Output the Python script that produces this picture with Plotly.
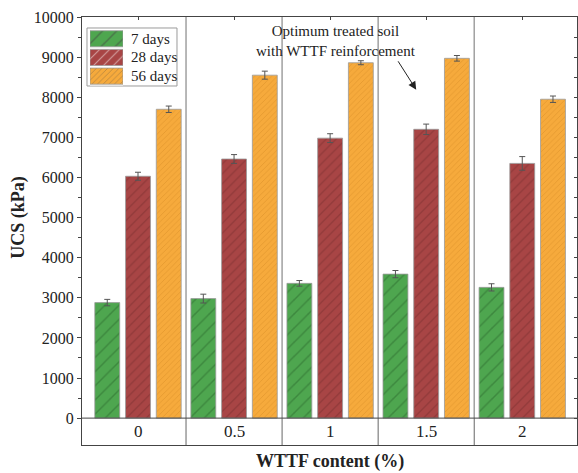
import plotly.graph_objects as go

categories = ["0", "0.5", "1", "1.5", "2"]
series_names = ["7 days", "28 days", "56 days"]
ucs_7 = [2880, 2980, 3360, 3590, 3260]
ucs_28 = [6030, 6460, 6980, 7200, 6350]
ucs_56 = [7700, 8550, 8860, 8970, 7950]
err_7 = [80, 110, 70, 90, 90]
err_28 = [100, 110, 110, 130, 170]
err_56 = [80, 100, 50, 70, 80]
y_ticks = [0, 1000, 2000, 3000, 4000, 5000, 6000, 7000, 8000, 9000, 10000]
note_text = "Optimum treated soil<br>with WTTF reinforcement"

FONT = "Liberation Serif, 'Times New Roman', Times, serif"
xs = list(range(len(categories)))

fills = ["#4ea64f", "#a84545", "#f6aa3c"]
hatch = ["#2c6a2e", "#6e2a2a", "#c47a1a"]
hsize = [10, 7, 4]

fig = go.Figure()
for i, (name, vals, errs) in enumerate(zip(series_names, [ucs_7, ucs_28, ucs_56],
                                         [err_7, err_28, err_56])):
    fig.add_trace(go.Bar(
        x=xs, y=vals, name=name, showlegend=False,
        marker=dict(color=fills[i],
                    line=dict(color="#9a9a9a", width=0.8),
                    pattern=dict(shape="/", fgcolor=hatch[i], size=hsize[i],
                                 solidity=0.15, fillmode="overlay")),
        error_y=dict(type="data", array=errs, color="#555555",
                     thickness=1, width=3),
    ))

# legend drawn as an inset of patterned swatches (one per series)
rows = list(range(len(series_names)))
fig.add_trace(go.Bar(
    y=rows, x=[1] * len(rows), orientation="h", xaxis="x3", yaxis="y3",
    width=0.86, showlegend=False, hoverinfo="skip",
    marker=dict(color=fills, line=dict(color="#9a9a9a", width=0.8),
                pattern=dict(shape="/", fgcolor=hatch, size=hsize,
                             solidity=0.15, fillmode="overlay")),
))

# invisible trace for mirror axes (top / right ticks)
fig.add_trace(go.Scatter(x=[0], y=[0], xaxis="x2", yaxis="y2",
                         mode="markers", marker=dict(opacity=0),
                         showlegend=False, hoverinfo="skip"))

yr = [-670, 10000]
xr = [-0.583, 4.57]
minor_vals = [v + 500 for v in y_ticks[:-1]]

shapes = []
for b in [0.5, 1.5, 2.5, 3.5]:
    shapes.append(dict(type="line", xref="x", yref="y", x0=b, x1=b,
                       y0=0, y1=yr[1], line=dict(color="#a0a0a0", width=1.5),
                       layer="below"))
    shapes.append(dict(type="line", xref="x", yref="y", x0=b, x1=b,
                       y0=yr[0], y1=0, line=dict(color="#666666", width=1),
                       layer="below"))
shapes.append(dict(type="line", xref="paper", yref="y", x0=0, x1=1,
                   y0=0, y1=0, line=dict(color="#444444", width=1)))
# legend frame
shapes.append(dict(type="rect", xref="paper", yref="paper",
                   x0=0.0101, x1=0.1919, y0=0.8388, y1=0.9743,
                   line=dict(color="#9a9a9a", width=1), fillcolor="white",
                   layer="below"))

annotations = []
for x, c in zip(xs, categories):
    annotations.append(dict(x=x, y=-345, xref="x", yref="y", text=c,
                            showarrow=False,
                            font=dict(family=FONT, size=17, color="#222")))
for r, name in zip(rows, series_names):
    annotations.append(dict(x=0.094, y=r, xref="paper", yref="y3", text=name,
                            showarrow=False, xanchor="left",
                            font=dict(family=FONT, size=15, color="#222")))
annotations.append(dict(x=0.5, y=-0.0397, xref="paper", yref="paper",
                        text="<b>WTTF content (%)</b>", showarrow=False,
                        yanchor="middle",
                        font=dict(family=FONT, size=18, color="#222")))
annotations.append(dict(x=-0.129, y=5000, xref="paper", yref="y",
                        text="<b>UCS (kPa)</b>", showarrow=False, textangle=-90,
                        xanchor="center", yanchor="middle",
                        font=dict(family=FONT, size=18, color="#222")))
annotations.append(dict(x=2.06, y=9390, xref="x", yref="y", text=note_text,
                        showarrow=False, align="center",
                        font=dict(family=FONT, size=15, color="#222")))
annotations.append(dict(x=2.896, y=8189, ax=2.698, ay=8933, xref="x", yref="y",
                        axref="x", ayref="y", text="", showarrow=True,
                        arrowhead=2, arrowsize=1.6, arrowwidth=1,
                        arrowcolor="#222"))

fig.update_layout(
    width=578, height=473,
    margin=dict(l=82, r=1, t=17, b=28),
    paper_bgcolor="white", plot_bgcolor="white",
    barmode="group", bargap=0.04, bargroupgap=0.19,
    font=dict(family=FONT, size=16, color="#222"),
    showlegend=False,
    xaxis=dict(range=xr, showticklabels=False, ticks="", showgrid=False,
               zeroline=False, showline=True, linecolor="#444", linewidth=1,
               mirror=True, automargin=False),
    yaxis=dict(range=yr, tickvals=y_ticks, tickformat="d", ticks="outside",
               ticklen=4, tickcolor="#444", showgrid=False, zeroline=False,
               showline=True, linecolor="#444", linewidth=1, mirror=True,
               automargin=False,
               tickfont=dict(family=FONT, size=16, color="#222"),
               minor=dict(tickvals=minor_vals, ticks="outside", ticklen=3,
                          tickcolor="#444")),
    xaxis2=dict(range=xr, overlaying="x", side="top", tickvals=xs,
                ticks="inside", ticklen=3, tickcolor="#444",
                showticklabels=False, showgrid=False, zeroline=False,
                automargin=False),
    yaxis2=dict(range=yr, overlaying="y", side="right", anchor="x2",
                tickvals=y_ticks + minor_vals, ticks="inside", ticklen=3,
                tickcolor="#444", showticklabels=False, showgrid=False,
                zeroline=False, automargin=False),
    xaxis3=dict(domain=[0.01616, 0.08283], range=[0, 1], anchor="y3",
                visible=False, fixedrange=True),
    yaxis3=dict(domain=[0.840, 0.971], range=[2.5, -0.5], anchor="x3",
                visible=False, fixedrange=True),
    shapes=shapes,
    annotations=annotations,
)

fig.write_html("out.html", config={"displayModeBar": False},
               post_script="document.body.style.margin='0';document.body.style.overflow='hidden';")
